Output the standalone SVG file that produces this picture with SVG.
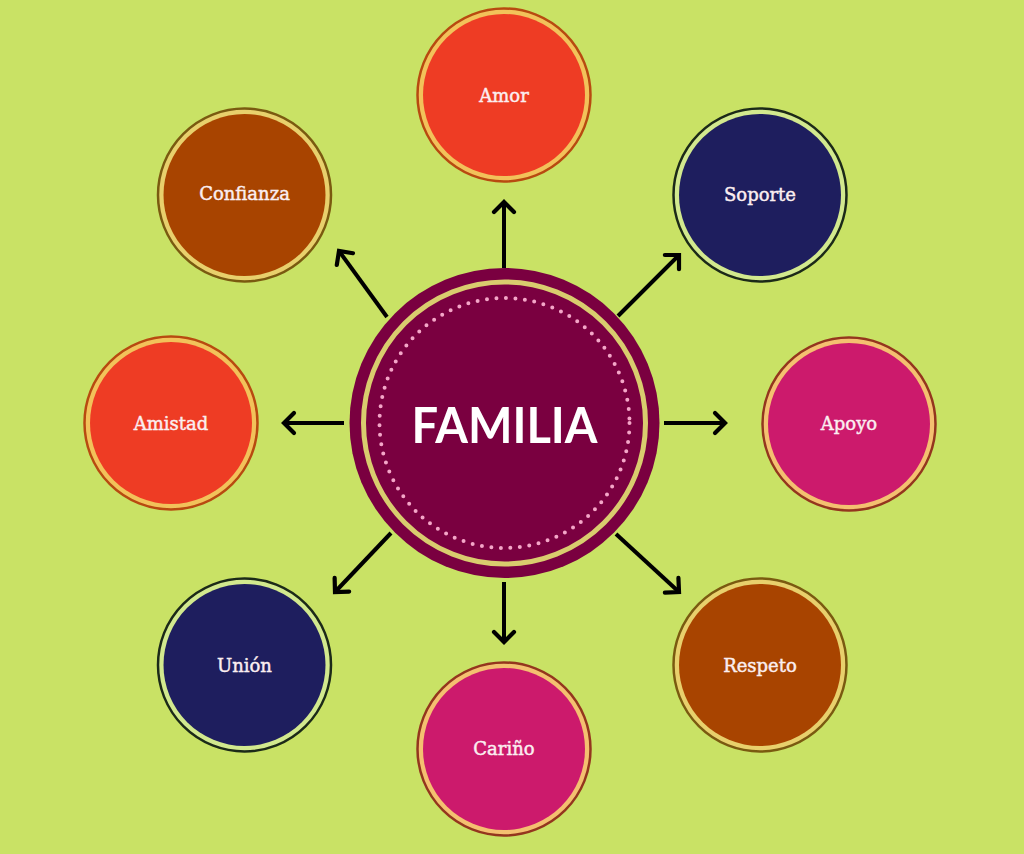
<svg xmlns="http://www.w3.org/2000/svg" width="1024" height="854" viewBox="0 0 1024 854">
  <defs>
    <style>
      .lbl { font-family: "DejaVu Serif", "Liberation Serif", serif; font-size: 18px; fill: #fbeef0; stroke: #fbeef0; stroke-width: 0.45; text-anchor: middle; }
      .main { font-family: Lato, "DejaVu Sans", sans-serif; font-size: 50px; font-weight: bold; fill: #ffffff; text-anchor: middle; }
      .con line { stroke: #000000; stroke-width: 4; marker-end: url(#chev); }
      .red .ring { fill: #f2c25a; stroke: #b84a10; }
      .red .core { fill: #ee3c24; }
      .navy .ring { fill: #d2e98e; stroke: #1c2a18; }
      .navy .core { fill: #1e1e5e; }
      .mag .ring { fill: #f4c070; stroke: #94361e; }
      .mag .core { fill: #cc1a6c; }
      .brn .ring { fill: #e8d06c; stroke: #7a5a10; }
      .brn .core { fill: #a84400; }
      .ring { stroke-width: 2.5; }
    </style>
    <marker id="chev" markerUnits="userSpaceOnUse" markerWidth="30" markerHeight="30" viewBox="-15 -15 30 30" refX="0" refY="0" orient="auto">
      <path d="M-10,-10 L0,0 L-10,10" fill="none" stroke="#000000" stroke-width="4.2" stroke-linecap="round" stroke-linejoin="miter"/>
    </marker>
  </defs>
  <rect width="1024" height="854" fill="#c9e265"/>

  <g id="connectors" class="con">
    <line x1="504" y1="268" x2="504" y2="202"/>
    <line x1="618" y1="316" x2="679" y2="255"/>
    <line x1="664" y1="423" x2="725" y2="423"/>
    <line x1="616" y1="534" x2="679" y2="592"/>
    <line x1="504" y1="582" x2="504" y2="642"/>
    <line x1="391" y1="533" x2="335" y2="592"/>
    <line x1="344" y1="423" x2="284" y2="423"/>
    <line x1="387" y1="317" x2="339" y2="251"/>
  </g>

  <g id="familia">
    <circle cx="504.5" cy="423" r="155" fill="#7a0040"/>
    <circle cx="504.5" cy="423" r="141" fill="none" stroke="#d9cc6e" stroke-width="5"/>
    <circle cx="504.5" cy="423" r="125" fill="none" stroke="#f4a6c8" stroke-width="4" stroke-linecap="round" stroke-dasharray="0 9.52"/>
    <text class="main" x="504.5" y="443" textLength="186" lengthAdjust="spacingAndGlyphs">FAMILIA</text>
  </g>

  <g id="amor" class="red">
    <circle class="ring" cx="504" cy="95" r="86.5"/>
    <circle class="core" cx="504" cy="95" r="81"/>
    <text class="lbl" x="504" y="102">Amor</text>
  </g>
  <g id="soporte" class="navy">
    <circle class="ring" cx="760" cy="195" r="86.5"/>
    <circle class="core" cx="760" cy="195" r="81"/>
    <text class="lbl" x="760" y="201">Soporte</text>
  </g>
  <g id="apoyo" class="mag">
    <circle class="ring" cx="849" cy="424" r="86.5"/>
    <circle class="core" cx="849" cy="424" r="81"/>
    <text class="lbl" x="849" y="430">Apoyo</text>
  </g>
  <g id="respeto" class="brn">
    <circle class="ring" cx="760" cy="665" r="86.5"/>
    <circle class="core" cx="760" cy="665" r="81"/>
    <text class="lbl" x="760" y="672">Respeto</text>
  </g>
  <g id="carino" class="mag">
    <circle class="ring" cx="504" cy="749" r="86.5"/>
    <circle class="core" cx="504" cy="749" r="81"/>
    <text class="lbl" x="504" y="755">Cariño</text>
  </g>
  <g id="union" class="navy">
    <circle class="ring" cx="244.5" cy="665" r="86.5"/>
    <circle class="core" cx="244.5" cy="665" r="81"/>
    <text class="lbl" x="244.5" y="672">Unión</text>
  </g>
  <g id="amistad" class="red">
    <circle class="ring" cx="171" cy="423" r="86.5"/>
    <circle class="core" cx="171" cy="423" r="81"/>
    <text class="lbl" x="171" y="430">Amistad</text>
  </g>
  <g id="confianza" class="brn">
    <circle class="ring" cx="244.5" cy="195" r="86.5"/>
    <circle class="core" cx="244.5" cy="195" r="81"/>
    <text class="lbl" x="244.5" y="200">Confianza</text>
  </g>
</svg>
